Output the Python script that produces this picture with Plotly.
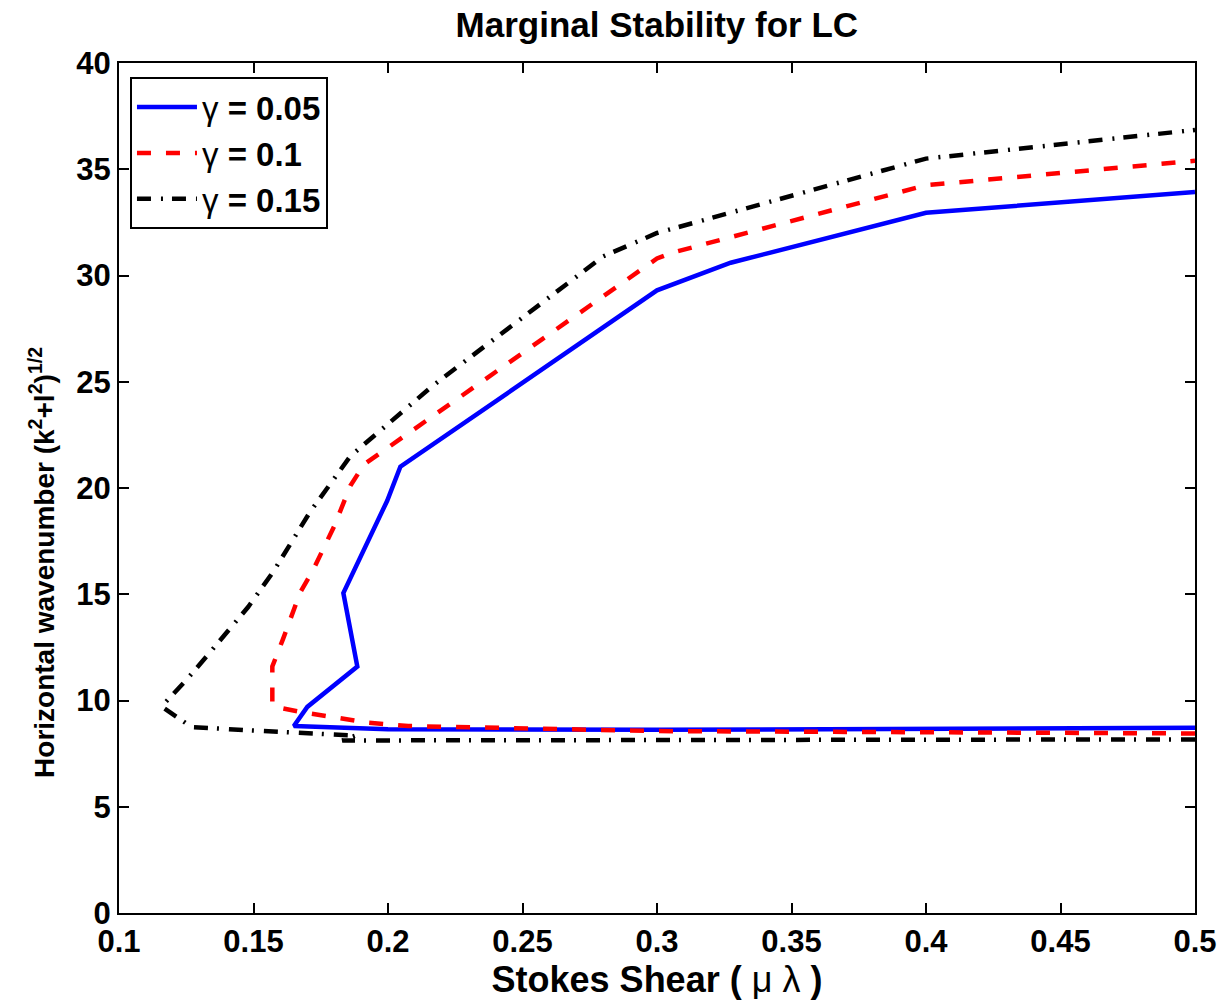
import plotly.graph_objects as go

# gamma = 0.05
blue_x = [0.5, 0.4, 0.3, 0.2, 0.165, 0.170, 0.1886, 0.1834, 0.1997, 0.2046, 0.3, 0.3274, 0.4, 0.5]
blue_y = [8.72, 8.66, 8.62, 8.65, 8.8, 9.7, 11.6, 15.06, 19.4, 21.0, 29.3, 30.6, 32.95, 33.93]

# gamma = 0.1
red_x = [0.5, 0.4, 0.3, 0.2075, 0.193, 0.1674, 0.16, 0.157, 0.157, 0.161, 0.1674, 0.172, 0.18, 0.186, 0.191, 0.3, 0.305, 0.4, 0.5]
red_y = [8.45, 8.5, 8.56, 8.8, 8.95, 9.46, 9.65, 9.8, 11.6, 12.9, 15.1, 16.1, 18.2, 20.1, 21.1, 30.8, 31.05, 34.25, 35.4]

# gamma = 0.15
black_x = [0.5, 0.4, 0.3, 0.2, 0.183, 0.188, 0.172, 0.148, 0.127, 0.1234, 0.116, 0.117, 0.125, 0.133, 0.148, 0.1573, 0.171, 0.186, 0.217, 0.28, 0.3, 0.4, 0.5]
black_y = [8.17, 8.17, 8.15, 8.15, 8.12, 8.35, 8.47, 8.6, 8.75, 9.08, 9.7, 9.88, 10.96, 12.14, 14.4, 16.05, 18.87, 21.5, 24.85, 30.9, 32.0, 35.5, 36.85]

names = ["<span style='font-weight:normal'>γ</span> = 0.05",
         "<span style='font-weight:normal'>γ</span> = 0.1",
         "<span style='font-weight:normal'>γ</span> = 0.15"]

x_ticks = [0.1, 0.15, 0.2, 0.25, 0.3, 0.35, 0.4, 0.45, 0.5]
x_ticklabels = ["0.1", "0.15", "0.2", "0.25", "0.3", "0.35", "0.4", "0.45", "0.5"]
y_ticks = [0, 5, 10, 15, 20, 25, 30, 35, 40]

FONT = "Liberation Sans, Arial, Helvetica, sans-serif"

fig = go.Figure()
fig.add_trace(go.Scatter(x=blue_x, y=blue_y, mode="lines", name=names[0],
                         line=dict(color="#0000ff", width=4.5)))
fig.add_trace(go.Scatter(x=red_x, y=red_y, mode="lines", name=names[1],
                         line=dict(color="#ff0000", width=4.5, dash="14px,15px")))
fig.add_trace(go.Scatter(x=black_x, y=black_y, mode="lines", name=names[2],
                         line=dict(color="#000000", width=4.5, dash="14px,10px,2px,9px")))

axis_common = dict(
    showline=True, linecolor="black", linewidth=2, mirror="ticks",
    ticks="inside", ticklen=10, tickwidth=1.5, tickcolor="black",
    showgrid=False, zeroline=False,
    tickfont=dict(family=FONT, size=31, color="black", weight="bold"),
)

fig.update_xaxes(range=[0.1, 0.5], tickvals=x_ticks, ticktext=x_ticklabels,
                 title=dict(text="<b>Stokes Shear ( </b>μ λ<b> )</b>",
                            font=dict(family=FONT, size=36, color="black"), standoff=4),
                 **axis_common)
fig.update_yaxes(range=[0, 40], tickvals=y_ticks, **axis_common)

fig.add_annotation(
    text="<b>Horizontal wavenumber (k<sup>2</sup>+l<sup>2</sup>)<sup>1/2</sup></b>",
    xref="paper", yref="paper", x=-0.0716, y=0.413, xanchor="center", yanchor="middle",
    textangle=-90, showarrow=False,
    font=dict(family=FONT, size=28, color="black"))

fig.update_layout(
    width=1230, height=1000,
    margin=dict(l=119, r=35, t=63, b=87),
    paper_bgcolor="white", plot_bgcolor="white",
    title=dict(text="<b>Marginal Stability for LC</b>", x=0.534, xanchor="center",
               y=0.975, yanchor="middle",
               font=dict(family=FONT, size=35, color="black")),
    legend=dict(x=0.0102, y=0.9835, xanchor="left", yanchor="top",
                bgcolor="white", bordercolor="black", borderwidth=2,
                font=dict(family=FONT, size=33, color="black", weight="bold"),
                itemwidth=60, tracegroupgap=0),
    showlegend=True,
)

fig.write_html("out.html")
